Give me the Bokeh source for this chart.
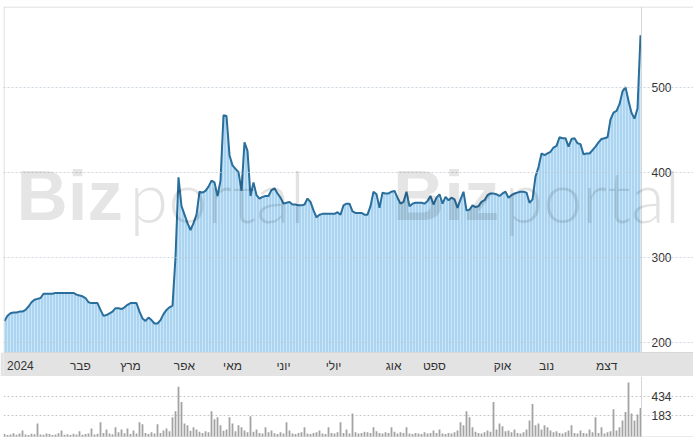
import math
from bokeh.plotting import figure
from bokeh.layouts import column
from bokeh.models import Range1d, FixedTicker, Span, Label, PrintfTickFormatter
from bokeh.embed import file_html
from bokeh.resources import INLINE
from bokeh.core.properties import value

# ---- data (daily close, 2024) ----
PRICE = [
    225, 231, 234, 235, 235, 236, 236, 238, 242, 247,
    250, 251, 252, 257, 257, 257, 257, 258, 258, 258,
    258, 258, 258, 258, 256, 255, 254, 252, 247, 246,
    246, 246, 238, 231, 232, 234, 236, 240, 240, 239,
    241, 244, 246, 246, 246, 236, 228, 225, 229, 226,
    222, 222, 226, 233, 238, 241, 243, 300, 394, 360,
    350, 340, 332, 340, 350, 377, 376, 378, 383, 390,
    388, 372, 390, 467, 466, 420, 408, 404, 400, 378,
    435, 425, 372, 388, 373, 369, 371, 372, 372, 379,
    381, 375, 370, 363, 364, 365, 362, 362, 361, 361,
    362, 369, 365, 355, 347, 350, 351, 351, 351, 351,
    351, 353, 350, 361, 363, 363, 354, 352, 352, 352,
    350, 350, 360, 377, 374, 358, 376, 375, 375, 377,
    378, 370, 363, 365, 377, 360, 363, 364, 364, 364,
    363, 366, 372, 362, 370, 374, 363, 371, 367, 370,
    368, 358, 368, 377, 355, 356, 361, 359, 360, 365,
    367, 373, 375, 375, 374, 372, 375, 377, 370, 373,
    375, 376, 377, 377, 376, 364, 368, 395, 406, 422,
    420, 422, 424, 429, 431, 441, 440, 440, 430, 439,
    440, 434, 433, 421, 422, 422, 426, 430, 435, 439,
    440, 441, 462, 470, 472, 480, 495, 500, 484, 470,
    463, 475, 561,
]

VOLUME = [
    82, 78, 80, 85, 79, 84, 96, 80, 78, 83,
    81, 130, 80, 79, 84, 82, 78, 80, 85, 96,
    79, 81, 78, 83, 80, 92, 79, 82, 84, 105,
    80, 83, 138, 86, 100, 84, 81, 110, 88, 100,
    85, 105, 82, 96, 84, 138, 127, 86, 82, 88,
    84, 127, 86, 96, 105, 92, 173, 226, 675, 341,
    130, 121, 95, 110, 100, 90, 86, 92, 88, 226,
    158, 173, 121, 95, 100, 173, 130, 92, 121, 110,
    96, 88, 180, 90, 100, 86, 84, 110, 88, 96,
    85, 82, 88, 84, 138, 96, 84, 82, 86, 88,
    110, 84, 82, 86, 88, 96, 84, 82, 110, 86,
    84, 88, 138, 86, 100, 84, 205, 88, 84, 86,
    90, 88, 86, 110, 92, 86, 84, 88, 86, 110,
    90, 84, 88, 86, 110, 84, 82, 86, 84, 82,
    88, 84, 86, 96, 86, 100, 84, 82, 86, 84,
    88, 96, 138, 121, 226, 173, 110, 90, 86, 84,
    88, 96, 90, 341, 100, 130, 115, 92, 96, 88,
    100, 86, 84, 88, 100, 150, 310, 121, 130, 100,
    121, 110, 96, 88, 92, 86, 84, 88, 96, 121,
    86, 84, 96, 86, 84, 100, 88, 173, 86, 110,
    84, 88, 92, 247, 96, 110, 150, 217, 807, 205,
    150, 195, 260,
]

MONTH_POS = [5.3, 25.3, 42, 60, 76, 93, 109.7, 129.7, 143.3, 166, 180.7, 200.7]
MONTH_LABELS = ["2024", "פבר", "מרץ", "אפר", "מאי", "יוני", "יולי", "אוג", "ספט", "אוק", "נוב", "דצמ"]
PRICE_TICKS = [200, 300, 400, 500]
VOL_TICKS = [183, 434]

# ---- layout constants ----
N = len(PRICE)
idx = list(range(N))
W = 693          # total width
LEFT = 3         # left border
DATA_W = 638     # width of the data area (frame extends over the label column too)
P_H = 346        # price frame height
V_H = 61         # volume frame height
X0, X1 = -1 / 3, N - 1 + 1 / 3
SCALE = DATA_W / (X1 - X0)
XR = X0 + (W - LEFT) / SCALE
STANDOFF = -(W - LEFT - DATA_W) + 4
P_LO, P_HI = 187.9, 594.9
V_LO, V_HI = 70, 1060
HALF_X = 0.5 / SCALE
HALF_P = 0.5 * (P_HI - P_LO) / P_H
V_EDGE = V_LO * math.exp(0.5 * math.log(V_HI / V_LO) / V_H)
FONT = "Liberation Sans"
LIGHT_FONT = "Lato Light, Roboto Light, DejaVu Sans ExtraLight, Liberation Sans"
LABEL_COLOR = "#333333"
EDGE_COLOR = "#d6d6d6"

xr = Range1d(X0, XR)


def style_right_axis(fig, ticks):
    ax = fig.yaxis[0]
    ax.ticker = FixedTicker(ticks=ticks)
    ax.major_tick_line_color = None
    ax.minor_tick_line_color = None
    ax.axis_line_color = None
    ax.major_label_text_font = FONT
    ax.major_label_text_font_size = "12px"
    ax.major_label_text_color = LABEL_COLOR
    ax.major_label_standoff = STANDOFF
    fig.ygrid.bounds = (X0, X1)
    fig.ygrid.grid_line_dash = "2 2"
    fig.add_layout(Span(location=X1, dimension="height", line_color=EDGE_COLOR, line_width=1))


# ---- price panel ----
p = figure(width=W, height=P_H + 6, output_backend="svg", toolbar_location=None,
           x_range=xr, y_range=Range1d(P_LO, P_HI),
           x_axis_location=None, y_axis_location="right",
           min_border_left=LEFT, min_border_top=6, min_border_bottom=0,
           min_border_right=0)
p.outline_line_color = None
p.xgrid.visible = False
style_right_axis(p, PRICE_TICKS)
p.ygrid.grid_line_color = "#c2ccd4"
p.ygrid.level = "overlay"
p.ygrid.grid_line_alpha = 0.8
p.add_layout(Span(location=P_HI - HALF_P, dimension="width", line_color=EDGE_COLOR, line_width=1))
p.add_layout(Span(location=X0 + HALF_X, dimension="height", line_color=EDGE_COLOR, line_width=1))

p.varea(x=idx, y1=P_LO, y2=PRICE, fill_color="#aad4f0")
p.segment(x0=idx, y0=[P_LO] * N, x1=idx, y1=PRICE, line_color="#d2eafa",
          line_width=1, line_alpha=0.8)
p.line(idx, PRICE, line_color="#2a6e9c", line_width=2)

for x_biz, x_portal in [(4.0, 41.7), (129.5, 166.7)]:
    p.add_layout(Label(x=x_biz, y=372.5, text="Biz", text_font=FONT,
                       text_font_size="71px", text_font_style="bold",
                       text_color="#000000", text_alpha=0.1,
                       text_baseline="alphabetic", level="overlay"))
    p.add_layout(Label(x=x_portal, y=372.5, text="portal", text_font=LIGHT_FONT,
                       text_font_size="70px", text_color="#000000", text_alpha=0.11,
                       text_baseline="alphabetic", level="overlay"))

# ---- month band ----
band = figure(width=W, height=24, output_backend="svg", toolbar_location=None,
              x_range=xr, y_range=Range1d(0, 1),
              x_axis_location=None, y_axis_location=None,
              min_border_left=LEFT, min_border_right=0, min_border_top=0, min_border_bottom=0,
              background_fill_color="#e3e3e3", border_fill_color="#e3e3e3")
band.outline_line_color = None
band.grid.visible = False
band.add_layout(Span(location=1, dimension="width", line_color="#bdbdbd", line_width=1))
band.text(x=MONTH_POS, y=[0.45] * len(MONTH_POS), text=MONTH_LABELS,
          text_align="center", text_baseline="middle",
          text_font=value(FONT), text_font_size="12px", text_color=LABEL_COLOR)

# ---- volume panel ----
vol = figure(width=W, height=V_H, output_backend="svg", toolbar_location=None,
             x_range=xr, y_range=Range1d(V_LO, V_HI), y_axis_type="log",
             x_axis_location=None, y_axis_location="right",
             min_border_left=LEFT, min_border_top=0, min_border_bottom=0,
             min_border_right=0)
vol.outline_line_color = None
vol.xgrid.visible = False
style_right_axis(vol, VOL_TICKS)
vol.yaxis.formatter = PrintfTickFormatter(format="%d")
vol.ygrid.grid_line_color = "#c8c8c8"
vol.vbar(x=idx, top=VOLUME, bottom=V_LO, width=0.6, fill_color="#a3a3a3", line_color=None)
vol.add_layout(Span(location=V_EDGE, dimension="width", line_color=EDGE_COLOR, line_width=1))

layout = column(p, band, vol, spacing=0)
open("out.html", "w").write(file_html(layout, INLINE))
